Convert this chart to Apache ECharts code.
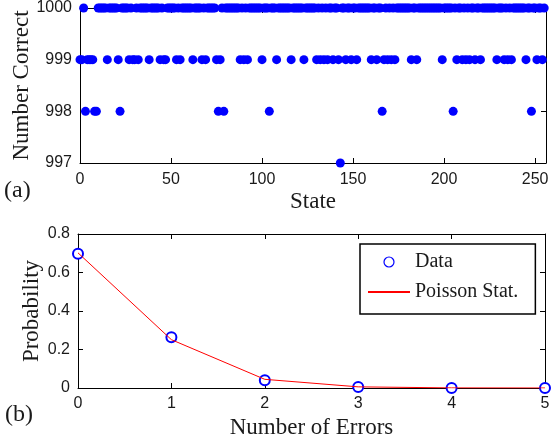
<!DOCTYPE html>
<html>
<head>
<meta charset="utf-8">
<script src="https://cdn.jsdelivr.net/npm/echarts@6/dist/echarts.min.js"></script>
<style>
  html, body { margin: 0; padding: 0; background: #fff; }
  #chart { width: 551px; height: 439px; }
</style>
</head>
<body>
<div id="chart"></div>
<script>
// Panel (a): number correct for each of 256 states. Any state not listed
// below reads 1000 in the picture.
const stateCount = 256
const states999 = [0, 1, 4, 5, 6, 7, 15, 21, 27, 29, 30, 32, 38, 44, 46, 47, 53, 55,
  62, 67, 69, 75, 77, 88, 90, 92, 100, 108, 116, 123, 130, 132, 134, 136, 139,
  142, 146, 149, 152, 160, 163, 167, 169, 171, 173, 182, 185, 199, 207, 210, 212,
  214, 217, 220, 229, 233, 235, 237, 245, 251, 254]
const states998 = [3, 8, 9, 22, 76, 79, 104, 166, 205, 248]
const states997 = [143]

// Panel (b): probability of a given number of errors
const errorCounts = [0, 1, 2, 3, 4, 5]
const dataProb = [0.697, 0.264, 0.040, 0.005, 0.0005, 0.0002]
const poissonProb = [0.702, 0.251, 0.045, 0.006, 0.0005, 0.00003]

const BLUE = "#0000ff"
const RED = "#ff0000"
const INK = "#000"
const TEXT = "#1a1a1a"
const SERIF = "'Liberation Serif', serif"
const SANS = "'Liberation Sans', Arial, sans-serif"

const correctPoints = []
for (let s = 0; s < stateCount; s++) {
  let v = 1000
  if (states999.includes(s)) v = 999
  if (states998.includes(s)) v = 998
  if (states997.includes(s)) v = 997
  correctPoints.push([s, v])
}

// MATLAB-style boxed axes: inward ticks on all four sides, labels on two.
function axis(gridIndex, position, range, labelled, extra) {
  return {
    type: "value",
    gridIndex,
    position,
    min: range[0],
    max: range[1],
    interval: range[2],
    axisLine: {onZero: false, lineStyle: {color: INK, width: 1}},
    axisTick: {inside: true, length: 5, lineStyle: {color: INK}},
    axisLabel: {show: labelled, color: TEXT, fontFamily: SANS, fontSize: 16, margin: 8,
      formatter: (v) => String(v)},
    splitLine: {show: false},
    nameTextStyle: {fontFamily: SERIF, fontSize: 23, color: TEXT},
    nameLocation: "middle",
    nameMoveOverlap: false,
    ...extra,
  }
}

const chart = echarts.init(document.getElementById("chart"), null, {renderer: "canvas"})

chart.setOption({
  animation: false,
  backgroundColor: "#fff",
  grid: [
    {left: 80, right: 5, top: 8, height: 155, outerBoundsMode: "none"},
    {left: 78, right: 6, top: 234, height: 154, outerBoundsMode: "none"},
  ],
  xAxis: [
    axis(0, "bottom", [0, 256, 50], true, {
      name: "State", nameGap: 27,
      axisLabel: {color: TEXT, fontFamily: SANS, fontSize: 16, margin: 9, showMaxLabel: false,
        formatter: (v) => String(v)},
    }),
    axis(0, "top", [0, 256, 50], false),
    axis(1, "bottom", [0, 5, 1], true, {name: "Number of Errors", nameGap: 28}),
    axis(1, "top", [0, 5, 1], false),
  ],
  yAxis: [
    axis(0, "left", [997, 1000, 1], true, {name: "Number Correct", nameGap: 47}),
    axis(0, "right", [997, 1000, 1], false),
    axis(1, "left", [0, 0.8, 0.2], true, {name: "Probability", nameGap: 35}),
    axis(1, "right", [0, 0.8, 0.2], false),
  ],
  legend: {
    orient: "vertical",
    left: 360,
    top: 244,
    padding: [8, 17, 12, 7],
    itemGap: 10,
    itemWidth: 42,
    itemHeight: 10,
    borderColor: INK,
    borderWidth: 1.5,
    backgroundColor: "#fff",
    textStyle: {fontFamily: SERIF, fontSize: 20, color: TEXT},
    data: [
      {name: "Data", icon: "circle", itemStyle: {color: "#fff", borderColor: BLUE, borderWidth: 1.2}},
      {name: "Poisson Stat.", itemStyle: {color: "rgba(0,0,0,0)", borderWidth: 0, opacity: 0}},
    ],
  },
  series: [
    {
      type: "scatter",
      xAxisIndex: 0,
      yAxisIndex: 0,
      symbol: "circle",
      symbolSize: 9,
      clip: false,
      itemStyle: {color: BLUE, opacity: 1},
      data: correctPoints,
    },
    {
      name: "Data",
      type: "scatter",
      xAxisIndex: 2,
      yAxisIndex: 2,
      symbol: "emptyCircle",
      symbolSize: 10,
      clip: false,
      z: 2,
      itemStyle: {color: BLUE, borderColor: BLUE, borderWidth: 1.2, opacity: 1},
      data: errorCounts.map((n, i) => [n, dataProb[i]]),
    },
    {
      name: "Poisson Stat.",
      type: "line",
      xAxisIndex: 2,
      yAxisIndex: 2,
      symbol: "none",
      z: 3,
      lineStyle: {color: RED, width: 1},
      itemStyle: {color: RED},
      data: errorCounts.map((n, i) => [n, poissonProb[i]]),
    },
  ],
  graphic: [
    {type: "text", left: 4, top: 179, style: {text: "(a)", font: "24px " + SERIF, fill: TEXT}},
    {type: "text", left: 5, top: 403, style: {text: "(b)", font: "24px " + SERIF, fill: TEXT}},
  ],
})
</script>
</body>
</html>
